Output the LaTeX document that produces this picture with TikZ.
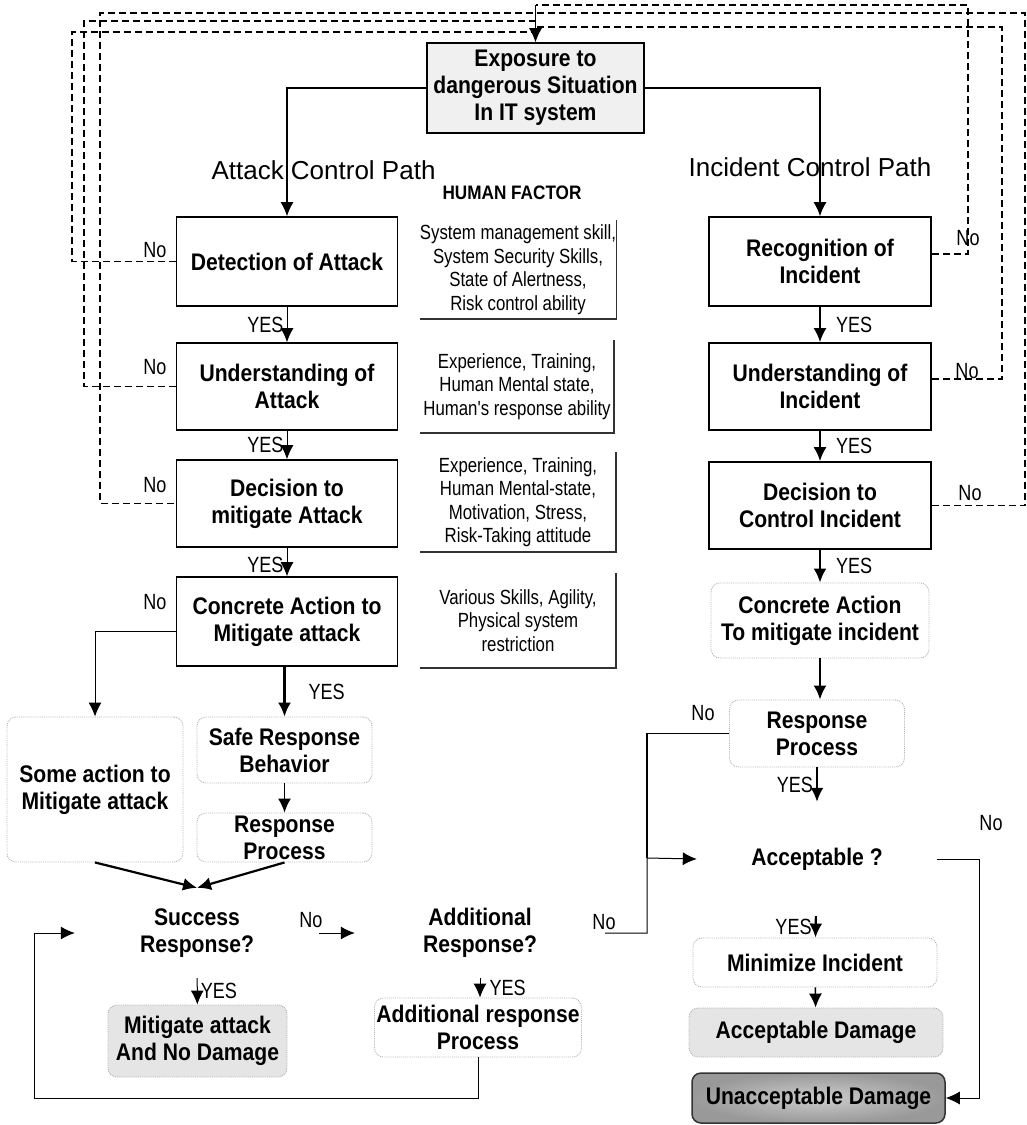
\documentclass[tikz,border=0pt]{standalone}
\usepackage{fontspec}
\setmainfont{Liberation Sans}
\newfontfamily\boxfam{Liberation Sans}[FakeStretch=0.88]
\newfontfamily\narfam{Liberation Sans}[FakeStretch=0.82]
\usepackage{tikz}
\usetikzlibrary{positioning}
\usetikzlibrary{arrows.meta,calc}
\newcommand{\bxfont}{\boxfam\fontsize{24}{27}\selectfont\bfseries}
\newcommand{\hffont}{\narfam\fontsize{20.5}{23.5}\selectfont}
\newcommand{\lbfont}{\narfam\fontsize{22}{24}\selectfont}
\newcommand{\ttlfont}{\fontsize{26}{30}\selectfont}

\begin{document}
\begin{tikzpicture}[x=1pt, y=-1pt,
  every node/.style={inner sep=3pt},
  box/.style={draw, line width=1.6pt, minimum width=221pt, align=center, font=\bxfont},
  soft/.style={draw=gray!60, densely dotted, line width=0.9pt, rounded corners=9pt, align=center, font=\bxfont},
  shade/.style={soft, fill=gray!20},
  dark/.style={draw=black!80, line width=1.5pt, rounded corners=9pt, inner color=gray!40, outer color=gray!80, align=center, font=\bxfont},
  question/.style={align=center, font=\bxfont},
  factor/.style={align=center, font=\hffont, inner sep=0pt, minimum width=196pt},
  lab/.style={font=\lbfont, inner sep=1pt},
  arr/.style={draw, line width=1pt, -{Latex[length=14pt,width=13pt]}},
  arrb/.style={arr, line width=2.2pt},
  noline/.style={draw, line width=1.1pt, dash pattern=on 7pt off 4pt},
  bracket/.style={draw, line width=1.5pt, black!80}
  ]
  \useasboundingbox (0,0) rectangle (1027,1125);

  \node[box, fill=gray!12, minimum width=217pt, minimum height=90pt] (expo) at (535.5,88) {Exposure to\\dangerous Situation\\In IT system};
  \node[font=\ttlfont] (atp) at (323.5,170) {Attack Control Path};
  \node[font=\ttlfont] (icp) at (810,167) {Incident Control Path};
  \node[font=\boxfam\fontsize{19.5}{22}\selectfont\bfseries] (hft) at (512,193) {HUMAN FACTOR};

  \node[box, minimum height=89pt] (det) at (287,261.5) {Detection of Attack};
  \node[box, minimum height=87pt] (undA) at (287,386.5) {Understanding of\\Attack};
  \node[box, minimum height=87pt] (decA) at (287,503.5) {Decision to\\mitigate Attack};
  \node[box, minimum height=89pt] (conA) at (287,621.5) {Concrete Action to\\Mitigate attack};

  \node[box, minimum width=222pt, minimum height=89pt] (rec) at (820,261.5) {Recognition of\\Incident};
  \node[box, minimum width=222pt, minimum height=87pt] (undI) at (820,386.5) {Understanding of\\Incident};
  \node[box, minimum width=222pt, minimum height=87pt] (decI) at (820,505.5) {Decision to\\Control Incident};
  \node[soft, minimum width=218pt, minimum height=75pt] (conI) at (820,620.5) {Concrete Action\\To mitigate incident};
  \node[soft, minimum width=175pt, minimum height=67pt] (rpI) at (817,733.5) {Response\\Process};
  \node[question, minimum width=240pt, minimum height=114pt] (accQ) at (817,859) {Acceptable ?};
  \node[soft, minimum width=244pt, minimum height=49pt] (minI) at (815,962.5) {Minimize Incident};
  \node[shade, minimum width=254pt, minimum height=49pt] (accD) at (816,1032.5) {Acceptable Damage};
  \node[dark, minimum width=253pt, minimum height=50pt] (unaD) at (818.5,1098) {Unacceptable Damage};

  \node[soft, minimum width=176pt, minimum height=145pt] (some) at (95,789.5) {Some action to\\Mitigate attack};
  \node[soft, minimum width=175pt, minimum height=66pt] (safe) at (284.5,750) {Safe Response\\Behavior};
  \node[soft, minimum width=175pt, minimum height=49pt, inner ysep=0pt] (rpA) at (284.5,837.5) {Response\\Process};
  \node[question, minimum width=244pt, minimum height=90pt] (succ) at (197,933) {Success\\Response?};
  \node[question, minimum width=250pt, minimum height=90pt] (addQ) at (480,933) {Additional\\Response?};
  \node[shade, minimum width=179pt, minimum height=72pt] (mitg) at (197.5,1041) {Mitigate attack\\And No Damage};
  \node[soft, minimum width=207pt, minimum height=59pt, inner xsep=0pt] (addP) at (478,1027.5) {Additional response\\Process};

  \node[factor, minimum height=99pt] (hf1) at (518,269.5) {System management skill,\\System Security Skills,\\State of Alertness,\\Risk control ability};
  \node[factor, minimum width=194pt, minimum height=93pt] (hf2) at (517,386.5) {Experience, Training,\\Human Mental state,\\Human's response ability};
  \node[factor, minimum height=100pt] (hf3) at (518,502) {Experience, Training,\\Human Mental-state,\\Motivation, Stress,\\Risk-Taking attitude};
  \node[factor, minimum height=95pt] (hf4) at (518,620.5) {Various Skills, Agility,\\Physical system\\restriction};
  \foreach \f in {hf1,hf2,hf3,hf4}
    \draw[bracket] (\f.north east) -- (\f.south east) -- (\f.south west);

  \node[lab] (n1) at (155,250) {No};
  \node[lab] (n2) at (155,367) {No};
  \node[lab] (n3) at (155,485) {No};
  \node[lab] (n4) at (155,602) {No};
  \node[lab] (n5) at (968,238) {No};
  \node[lab] (n6) at (967,371) {No};
  \node[lab] (n7) at (970,493) {No};
  \node[lab] (n8) at (703,713) {No};
  \node[lab] (n9) at (991,823) {No};
  \node[lab] (n10) at (311,920) {No};
  \node[lab] (n11) at (604,922) {No};

  \coordinate (ret) at (expo.north |- 0,5);
  \coordinate (jn) at (647,858);
  \draw[arr, line width=1.3pt] (expo.west) -| (det.north);
  \draw[arr, line width=1.3pt] (expo.east) -| (rec.north);
  \draw[arr] (ret) -- (expo.north);
  \draw[noline] ([yshift=7.5pt]rec.east) -| (968,5) -- (ret);
  \draw[noline] ([yshift=7.5pt]undI.east) -| (1002,27) -- (ret |- 0,27);
  \draw[noline] (decI.east) -| (1025,13) -- (100,13) |- (decA.west);
  \draw[noline] (det.west) -| (72,32) -- (ret |- 0,32);
  \draw[noline] (undA.west) -| (84,21) -- (ret |- 0,21);

  \draw[arr] (det) -- (undA) node[lab, midway, left=2pt] {YES};
  \draw[arr] (undA) -- (decA) node[lab, midway, left=2pt] {YES};
  \draw[arr] (decA) -- (conA) node[lab, pos=0.6, left=2pt] {YES};
  \draw[arrb] (rec) -- (undI) node[lab, midway, right=14pt] {YES};
  \draw[arrb] (undI) -- (decI) node[lab, midway, right=14pt] {YES};
  \draw[arrb] (decI) -- (conI) node[lab, midway, right=14pt] {YES};
  \draw[arrb] (conI.south) -- (conI.south |- rpI.north);
  \draw[arrb] (rpI) -- (accQ) node[lab, midway, left=2pt] {YES};
  \draw[arrb] (accQ) -- (minI) node[lab, midway, left=2pt] {YES};
  \draw[arr, line width=1.5pt] (minI) -- (accD);
  \draw[arr] (accQ.east) -- ++(42,0) |- (unaD.east);
  \draw[line width=1.2pt] (rpI.west) -| (jn);
  \draw[arr] (addQ.east) -| (jn) -- (accQ.west);

  \draw[arr] ([yshift=-9.5pt]conA.west) -| (some.north);
  \draw[arrb] (safe.north |- conA.south) -- (safe.north) node[lab, midway, right=22pt] {YES};
  \draw[arr, line width=1.5pt] (safe) -- (rpA);
  \draw[arrb] (some.south) -- (succ.north);
  \draw[arrb] (rpA.south) -- (succ.north);
  \draw[arr] (succ.east) -- (addQ.west);
  \draw[arr] (succ) -- (mitg) node[lab, midway, right=2pt] {YES};
  \draw[arr] (addQ.south) -- (addQ.south |- addP.north) node[lab, midway, right=8pt] {YES};
  \draw[arr] (addP.south) -- ++(0,41) -| ([xshift=-40pt]succ.west) -- (succ.west);
\end{tikzpicture}
\end{document}
